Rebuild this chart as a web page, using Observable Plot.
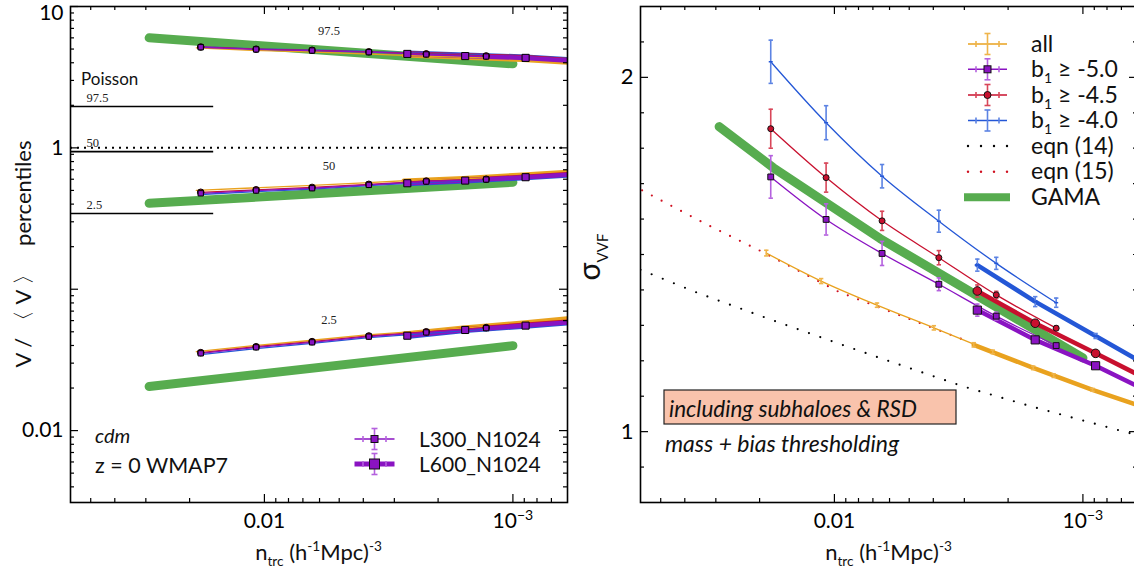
<!DOCTYPE html>
<html>
<head>
<meta charset="utf-8">
<script src="https://cdn.jsdelivr.net/npm/d3@7"></script>
<script src="https://cdn.jsdelivr.net/npm/@observablehq/plot@0.6"></script>
<style>
html,body{margin:0;padding:0;background:#fff;}
body{width:1134px;height:572px;overflow:hidden;}
#wrap{position:relative;width:1134px;height:572px;overflow:hidden;background:#fff;}
.panel{position:absolute;top:0;width:580px;height:572px;}
#left{left:0}
#right{left:580px}
</style>
</head>
<body>
<div id="wrap"><div id="left" class="panel"></div><div id="right" class="panel"></div></div>
<script>
const FONT = "Lato, 'Open Sans', 'DejaVu Sans', sans-serif";
const SERIF = "'Liberation Serif', 'DejaVu Serif', serif";

// ---------- shared x axis ----------
const xDomain = [0.0603, 0.000603];
const xMajorTicks = [0.01, 0.001];
const xMajorLabels = ["0.01", "10⁻³"];
const xMinorTicks = [0.05,0.04,0.03,0.02,0.009,0.008,0.007,0.006,0.005,0.004,0.003,0.002,0.0009,0.0008,0.0007];

// ---------- tracer number densities ----------
const nAllL300  = [0.0188, 0.01131, 0.00674, 0.00398, 0.002305, 0.001311];
const nAllL600  = [0.00275, 0.001585, 0.000915, 0.000527];
const nBiasL300 = [0.01804, 0.0108, 0.00643, 0.0038, 0.002232, 0.001281];
const nBiasL600 = [0.00266, 0.001556, 0.000889, 0.00052];

// ---------- left panel: V/<V> percentiles ----------
const leftYDomain = [0.0031, 10.0];
const leftYMajor = [10, 1, 0.1, 0.01];
const leftYLabelTicks = [1, 0.01];
const leftYLabels = ["1", "0.01"];
const leftYTopTick = [10];
const leftYTopLabel = ["10"];
const leftYMinor = [9,8,7,6,5,4,3,2,0.9,0.8,0.7,0.6,0.5,0.4,0.3,0.2,0.09,0.08,0.07,0.06,0.05,0.04,0.03,0.02,0.009,0.008,0.007,0.006,0.005,0.004];

const poissonPct = ["97.5", "50", "2.5"];
const poissonVal = [1.96, 0.94, 0.343];
const poissonN = [0.0603, 0.016];

const p975AllL300 = [5.10, 4.90, 4.78, 4.62, 4.45, 4.33];
const p975AllL600 = [4.52, 4.35, 4.20, 3.95];
const p975B50L300 = [5.15, 4.97, 4.88, 4.75, 4.58, 4.43];
const p975B50L600 = [4.62, 4.46, 4.33, 4.08];
const p975B45L300 = [5.17, 4.99, 4.90, 4.78, 4.62, 4.47];
const p975B45L600 = [4.66, 4.50, 4.37, 4.12];
const p975B40L300 = [5.20, 5.02, 4.93, 4.82, 4.66, 4.52];
const p975B40L600 = [4.70, 4.55, 4.42, 4.17];

const p50AllL300 = [0.500, 0.520, 0.540, 0.565, 0.595, 0.612];
const p50AllL600 = [0.585, 0.610, 0.645, 0.685];
const p50B50L300 = [0.477, 0.499, 0.518, 0.547, 0.578, 0.597];
const p50B50L600 = [0.562, 0.587, 0.620, 0.655];
const p50B45L300 = [0.485, 0.505, 0.525, 0.552, 0.582, 0.600];
const p50B45L600 = [0.568, 0.592, 0.625, 0.660];
const p50B40L300 = [0.468, 0.490, 0.510, 0.540, 0.570, 0.590];
const p50B40L600 = [0.555, 0.580, 0.612, 0.648];

const p025AllL300 = [0.0362, 0.0398, 0.0432, 0.0474, 0.0508, 0.0545];
const p025AllL600 = [0.0485, 0.0535, 0.0580, 0.0635];
const p025B50L300 = [0.0352, 0.0388, 0.0421, 0.0462, 0.0495, 0.0530];
const p025B50L600 = [0.0469, 0.0515, 0.0553, 0.0595];
const p025B45L300 = [0.0356, 0.0392, 0.0426, 0.0467, 0.0500, 0.0535];
const p025B45L600 = [0.0474, 0.0521, 0.0560, 0.0602];
const p025B40L300 = [0.0345, 0.0380, 0.0414, 0.0455, 0.0488, 0.0523];
const p025B40L600 = [0.0462, 0.0508, 0.0546, 0.0588];

const nGamaLeft = [0.0291, 0.001];
const gama975 = [6.0, 3.93];
const gama50 = [0.405, 0.571];
const gama025 = [0.0205, 0.0399];

const simPctLabels = ["97.5", "50", "2.5"];

// ---------- right panel: sigma_VVF ----------
const rightYDomain = [0.8, 2.2];
const rightYMajor = [1, 2];
const rightYMinor = [0.9,1.1,1.2,1.3,1.4,1.5,1.6,1.7,1.8,1.9,2.1];

const sigAllL300 = [1.504, 1.425, 1.357, 1.293, 1.225, 1.158];
const errAllL300 = [0.008, 0.007, 0.006, 0.006, 0.005, 0.005];
const sigAllL600 = [1.245, 1.180, 1.118, 1.061];
const errAllL600 = [0.006, 0.005, 0.004, 0.004];
const sigB50L300 = [1.719, 1.599, 1.503, 1.416, 1.326, 1.243];
const errB50L300 = [0.060, 0.044, 0.034, 0.018, 0.011, 0.008];
const sigB50L600 = [1.343, 1.259, 1.186, 1.106];
const errB50L600 = [0.017, 0.008, 0.006, 0.005];
const sigB45L300 = [1.855, 1.717, 1.595, 1.491, 1.386, 1.292];
const errB45L300 = [0.055, 0.041, 0.027, 0.020, 0.010, 0.006];
const sigB45L600 = [1.397, 1.306, 1.221, 1.139];
const errB45L600 = [0.017, 0.008, 0.006, 0.005];
const sigB40L300 = [2.044, 1.872, 1.721, 1.594, 1.475, 1.364];
const errB40L300 = [0.061, 0.048, 0.033, 0.031, 0.017, 0.013];
const sigB40L600 = [1.470, 1.367, 1.270, 1.177];
const errB40L600 = [0.017, 0.014, 0.007, 0.006];

const nEqn14 = [0.0603, 0.0353, 0.0188, 0.0109, 0.00638, 0.00301, 0.00159, 0.000635];
const sigEqn14 = [1.457, 1.391, 1.321, 1.262, 1.205, 1.127, 1.070, 0.994];
const nEqn15 = [0.0594, 0.0327, 0.0197, 0.00957, 0.00301];
const sigEqn15 = [1.681, 1.585, 1.509, 1.394, 1.259];
const nGama = [0.0291, 0.01763, 0.00655, 0.001];
const sigGama = [1.861, 1.745, 1.545, 1.208];

const boxLabels = ["L300_N1024", "L600_N1024"];

// ---------- styles ----------
const C = {all:"#E9A21F", b50:"#8A13C2", b45:"#C8102E", b40:"#2457D6", gama:"#57AC4F"};
const CE = {all:"#EFB44A", b50:"#B461DE", b45:"#D84659", b40:"#5C83E3"};
const frameW = 497, frameH = 496, mT = 6, mB = 70;

const capH = {draw(ctx, size){ const r = Math.sqrt(size/Math.PI); ctx.moveTo(-r,0); ctx.lineTo(r,0); }};

function tickMarks(yMajor, yMinor) {
  const s = {stroke:"#000", strokeWidth:1.2};
  return [
    Plot.tickX(xMajorTicks, {x:d=>d, insetTop: frameH-8, ...s}),
    Plot.tickX(xMajorTicks, {x:d=>d, insetBottom: frameH-8, ...s}),
    Plot.tickX(xMinorTicks, {x:d=>d, insetTop: frameH-4, ...s}),
    Plot.tickX(xMinorTicks, {x:d=>d, insetBottom: frameH-4, ...s}),
    Plot.tickY(yMajor, {y:d=>d, insetRight: frameW-8, ...s}),
    Plot.tickY(yMajor, {y:d=>d, insetLeft: frameW-8, ...s}),
    Plot.tickY(yMinor, {y:d=>d, insetRight: frameW-4, ...s}),
    Plot.tickY(yMinor, {y:d=>d, insetLeft: frameW-4, ...s}),
  ];
}
const xLabelAxis = () => Plot.axisX(xMajorTicks, {tickSize:0, tickPadding:11, fontSize:21, fontFamily:FONT, label:null,
  tickFormat: d => xMajorLabels[xMajorTicks.indexOf(d)]});

const rows = (n, v) => n.map((d,i)=>({n:d, v:v[i]}));
const erows = (n, s, e) => n.map((d,i)=>({n:d, v:s[i], e:e[i]})).filter(d => d.n >= xDomain[1]);

// ---------- LEFT PLOT ----------
const leftSets = [
  {ser:"all", n3:nAllL300, n6:nAllL600, v3:[p975AllL300,p50AllL300,p025AllL300], v6:[p975AllL600,p50AllL600,p025AllL600]},
  {ser:"b40", n3:nBiasL300, n6:nBiasL600, v3:[p975B40L300,p50B40L300,p025B40L300], v6:[p975B40L600,p50B40L600,p025B40L600]},
  {ser:"b45", n3:nBiasL300, n6:nBiasL600, v3:[p975B45L300,p50B45L300,p025B45L300], v6:[p975B45L600,p50B45L600,p025B45L600]},
  {ser:"b50", n3:nBiasL300, n6:nBiasL600, v3:[p975B50L300,p50B50L300,p025B50L300], v6:[p975B50L600,p50B50L600,p025B50L600]},
];
const L = [];
L.push(Plot.ruleY([1], {y:d=>d, stroke:"#000", strokeWidth:2, strokeDasharray:"2,5"}));
L.push(Plot.ruleY(poissonVal, {y:d=>d, x1:poissonN[0], x2:poissonN[1], stroke:"#000", strokeWidth:1.6}));
L.push(Plot.text(poissonPct, {y:(d,i)=>poissonVal[i], text:d=>d, frameAnchor:"left", dx:16, dy:-9, textAnchor:"start", fontSize:12.5, fontFamily:SERIF, fill:"#222"}));
for (const g of [gama975, gama50, gama025]) L.push(Plot.line(rows(nGamaLeft, g), {x:"n", y:"v", stroke:C.gama, strokeWidth:9}));
for (const s of leftSets) for (let k=0;k<3;k++) L.push(Plot.line(rows(s.n6, s.v6[k]), {x:"n", y:"v", stroke:C[s.ser], strokeWidth:4.5, clip:true}));
for (const s of leftSets) for (let k=0;k<3;k++) L.push(Plot.line(rows(s.n3, s.v3[k]), {x:"n", y:"v", stroke:C[s.ser], strokeWidth:1.3}));
for (let k=0;k<3;k++) {
  L.push(Plot.dot(rows(nBiasL300, leftSets[2].v3[k]), {x:"n", y:"v", r:3.3, fill:C.b45, stroke:"#000", strokeWidth:1}));
  L.push(Plot.dot(rows(nBiasL300, leftSets[3].v3[k]), {x:"n", y:"v", r:3.0, symbol:"square", fill:C.b50, stroke:"#000", strokeWidth:1}));
  L.push(Plot.dot(rows(nBiasL600, leftSets[3].v6[k]).filter(d=>d.n>=xDomain[1]), {x:"n", y:"v", r:4.0, symbol:"square", fill:C.b50, stroke:"#000", strokeWidth:1}));
  L.push(Plot.dot(rows(nAllL300, leftSets[0].v3[k]), {x:"n", y:"v", r:3.2, symbol:"plus", fill:"#F2C12E"}));
}
L.push(Plot.frame({stroke:"#000", strokeWidth:1.6}));
L.push(...tickMarks(leftYMajor, leftYMinor));
L.push(xLabelAxis());
L.push(Plot.axisY(leftYLabelTicks, {tickSize:0, tickPadding:7, fontSize:21, fontFamily:FONT, label:null,
  tickFormat: d => leftYLabels[leftYLabelTicks.indexOf(d)]}));
L.push(Plot.axisY(leftYTopTick, {tickSize:0, tickPadding:7, fontSize:21, fontFamily:FONT, label:null, dy:7,
  tickFormat: d => leftYTopLabel[leftYTopTick.indexOf(d)]}));

const leftPlot = Plot.plot({
  width:580, height:572, marginLeft:70, marginRight:13, marginTop:mT, marginBottom:mB,
  style:{fontFamily:FONT, background:"transparent", maxWidth:"none", overflow:"visible"},
  x:{type:"log", domain:xDomain},
  y:{type:"log", domain:leftYDomain},
  marks: L
});
document.getElementById("left").appendChild(leftPlot);

// ---------- RIGHT PLOT ----------
const rightSets = [
  {ser:"all", t3:erows(nAllL300,sigAllL300,errAllL300), t6:erows(nAllL600,sigAllL600,errAllL600), l3:rows(nAllL300,sigAllL300), l6:rows(nAllL600,sigAllL600)},
  {ser:"b50", t3:erows(nBiasL300,sigB50L300,errB50L300), t6:erows(nBiasL600,sigB50L600,errB50L600), l3:rows(nBiasL300,sigB50L300), l6:rows(nBiasL600,sigB50L600)},
  {ser:"b45", t3:erows(nBiasL300,sigB45L300,errB45L300), t6:erows(nBiasL600,sigB45L600,errB45L600), l3:rows(nBiasL300,sigB45L300), l6:rows(nBiasL600,sigB45L600)},
  {ser:"b40", t3:erows(nBiasL300,sigB40L300,errB40L300), t6:erows(nBiasL600,sigB40L600,errB40L600), l3:rows(nBiasL300,sigB40L300), l6:rows(nBiasL600,sigB40L600)},
];
const R = [];
R.push(Plot.line(rows(nEqn14, sigEqn14), {x:"n", y:"v", stroke:"#000", strokeWidth:2.2, strokeDasharray:"0,12", strokeLinecap:"round", clip:true}));
R.push(Plot.line(rows(nEqn15, sigEqn15), {x:"n", y:"v", stroke:"#d01020", strokeWidth:2.2, strokeDasharray:"0,11", strokeLinecap:"round", clip:true}));
R.push(Plot.line(rows(nGama, sigGama), {x:"n", y:"v", stroke:C.gama, strokeWidth:9}));
for (const s of rightSets) R.push(Plot.line(s.l6, {x:"n", y:"v", stroke:C[s.ser], strokeWidth:4.5, clip:true}));
for (const s of rightSets) R.push(Plot.line(s.l3, {x:"n", y:"v", stroke:C[s.ser], strokeWidth:1.3, curve:"catmull-rom"}));
for (const s of rightSets) {
  for (const t of [s.t3, s.t6]) {
    R.push(Plot.ruleX(t, {x:"n", y1:d=>d.v-d.e, y2:d=>d.v+d.e, stroke:CE[s.ser], strokeWidth:1.6}));
    R.push(Plot.dot(t, {x:"n", y:d=>d.v-d.e, symbol:capH, r:2.2, stroke:CE[s.ser], fill:"none", strokeWidth:1.6}));
    R.push(Plot.dot(t, {x:"n", y:d=>d.v+d.e, symbol:capH, r:2.2, stroke:CE[s.ser], fill:"none", strokeWidth:1.6}));
  }
}
R.push(Plot.dot(rightSets[0].t3, {x:"n", y:"v", r:2.6, symbol:"plus", fill:C.all}));
R.push(Plot.dot(rightSets[0].t6, {x:"n", y:"v", r:3.0, symbol:"plus", fill:C.all}));
R.push(Plot.dot(rightSets[3].t3, {x:"n", y:"v", r:2.0, symbol:capH, stroke:C.b40, fill:"none", strokeWidth:1.5}));
R.push(Plot.dot(rightSets[3].t6, {x:"n", y:"v", r:2.6, symbol:capH, stroke:C.b40, fill:"none", strokeWidth:2}));
R.push(Plot.dot(rightSets[1].t3, {x:"n", y:"v", r:3.3, symbol:"square", fill:C.b50, stroke:"#111", strokeWidth:1}));
R.push(Plot.dot(rightSets[1].t6, {x:"n", y:"v", r:4.6, symbol:"square", fill:C.b50, stroke:"#111", strokeWidth:1}));
R.push(Plot.dot(rightSets[2].t3, {x:"n", y:"v", r:3.0, fill:C.b45, stroke:"#111", strokeWidth:1}));
R.push(Plot.dot(rightSets[2].t6, {x:"n", y:"v", r:4.3, fill:C.b45, stroke:"#111", strokeWidth:1}));
R.push(Plot.frame({stroke:"#000", strokeWidth:1.6}));
R.push(...tickMarks(rightYMajor, rightYMinor));
R.push(xLabelAxis());
R.push(Plot.axisY(rightYMajor, {tickSize:0, tickPadding:7, fontSize:22, fontFamily:FONT, label:null, tickFormat:d=>String(d)}));

const rightPlot = Plot.plot({
  width:580, height:572, marginLeft:60, marginRight:23, marginTop:mT, marginBottom:mB,
  style:{fontFamily:FONT, background:"transparent", maxWidth:"none", overflow:"visible"},
  x:{type:"log", domain:xDomain},
  y:{type:"linear", domain:rightYDomain},
  marks: R
});
document.getElementById("right").appendChild(rightPlot);

// ---------- rich-text helpers ----------
function rich(g, x, y, parts, {size=20, anchor="start", rotate=0, italic=false, family=FONT, fill="#111"} = {}) {
  const t = g.append("text").attr("transform", `translate(${x},${y}) rotate(${rotate})`)
    .attr("text-anchor", anchor).attr("font-size", size).attr("font-family", family)
    .attr("font-style", italic ? "italic" : "normal").attr("fill", fill);
  let shift = 0;
  for (const p of parts) {
    const ts = t.append("tspan").text(p.t);
    const target = p.sub ? size*0.28 : p.sup ? -size*0.42 : 0;
    if (target !== shift) { ts.attr("dy", target - shift); shift = target; }
    if (p.sub || p.sup) ts.attr("font-size", p.fs || size*0.62);
    else if (p.fs) ts.attr("font-size", p.fs);
  }
  return t;
}
// turn "10⁻³" tick labels into 10 with a raised exponent
for (const svg of [leftPlot, rightPlot]) {
  d3.select(svg).selectAll("text").each(function() {
    if (this.textContent === xMajorLabels[1]) {
      const t = d3.select(this); t.text("");
      t.append("tspan").text("10");
      t.append("tspan").attr("dy", -8).attr("font-size", 14).text("−3");
    }
  });
}
const gl = d3.select(leftPlot).append("g");
const gr = d3.select(rightPlot).append("g");
const xTitle = [{t:"n"},{t:"trc",sub:true},{t:" (h"},{t:"-1",sup:true},{t:"Mpc)"},{t:"-3",sup:true}];
rich(gl, 318.5, 560, xTitle, {size:22, anchor:"middle"});
rich(gr, 308.5, 560, xTitle, {size:22, anchor:"middle"});
rich(gl, 31, 254, [{t:"V / 〈 V 〉   percentiles"}], {size:22, anchor:"middle", rotate:-90});
rich(gr, 20, 257, [{t:"σ", fs:30},{t:"VVF",sub:true,fs:15}], {size:30, anchor:"middle", rotate:-90});

// left annotations
rich(gl, 81, 85, [{t:"Poisson"}], {size:17});
const simPctY = [35, 170, 324];
simPctLabels.forEach((s,i)=> rich(gl, 329, simPctY[i], [{t:s}], {size:12.5, anchor:"middle", family:SERIF, fill:"#222"}));
rich(gl, 95, 443, [{t:"cdm"}], {size:20, italic:true});
rich(gl, 95, 473, [{t:"z = 0 WMAP7"}], {size:21.5});

function legendRow(g, xm, y, half, color, ecolor, lw, marker, msize) {
  g.append("line").attr("x1", xm-half).attr("x2", xm+half).attr("y1", y).attr("y2", y).attr("stroke", color).attr("stroke-width", lw);
  const eb = 10.5;
  g.append("line").attr("x1", xm).attr("x2", xm).attr("y1", y-eb).attr("y2", y+eb).attr("stroke", ecolor).attr("stroke-width", 1.6);
  for (const s of [-1,1]) {
    g.append("line").attr("x1", xm-3).attr("x2", xm+3).attr("y1", y+s*eb).attr("y2", y+s*eb).attr("stroke", ecolor).attr("stroke-width", 1.6);
    g.append("line").attr("x1", xm+s*11.5).attr("x2", xm+s*11.5).attr("y1", y-3).attr("y2", y+3).attr("stroke", ecolor).attr("stroke-width", 1.6);
  }
  if (marker === "square") g.append("rect").attr("x", xm-msize/2).attr("y", y-msize/2).attr("width", msize).attr("height", msize).attr("fill", color).attr("stroke", "#111").attr("stroke-width", 1);
  if (marker === "circle") g.append("circle").attr("cx", xm).attr("cy", y).attr("r", msize/2).attr("fill", color).attr("stroke", "#111").attr("stroke-width", 1);
}
// left legend
legendRow(gl, 374.5, 439, 20, C.b50, CE.b50, 1.5, "square", 7);
legendRow(gl, 374.5, 464, 20, C.b50, CE.b50, 5, "square", 10);
rich(gl, 419, 446.5, [{t:boxLabels[0]}], {size:21});
rich(gl, 419, 471.5, [{t:boxLabels[1]}], {size:21});

// right legend
const lgY = [44, 69.3, 95, 120.5, 146, 171.7, 197.3];
const lgX = 407.5, lgT = 451;
legendRow(gr, lgX, lgY[0], 19.5, C.all, CE.all, 1.6, null, 0);
legendRow(gr, lgX, lgY[1], 19.5, C.b50, CE.b50, 1.6, "square", 7);
legendRow(gr, lgX, lgY[2], 19.5, C.b45, CE.b45, 1.6, "circle", 7);
legendRow(gr, lgX, lgY[3], 19.5, C.b40, CE.b40, 1.6, null, 0);
for (const [row, col] of [[4, "#000"], [5, "#d01020"]]) {
  for (let k=0;k<4;k++) gr.append("circle").attr("cx", lgX-19.5+k*13).attr("cy", lgY[row]).attr("r", 1.2).attr("fill", col);
}
gr.append("line").attr("x1", lgX-23.5).attr("x2", lgX+22.5).attr("y1", lgY[6]).attr("y2", lgY[6]).attr("stroke", C.gama).attr("stroke-width", 8);
const legParts = [
  [{t:"all"}],
  [{t:"b"},{t:"1",sub:true,fs:14},{t:" ≥ -5.0"}],
  [{t:"b"},{t:"1",sub:true,fs:14},{t:" ≥ -4.5"}],
  [{t:"b"},{t:"1",sub:true,fs:14},{t:" ≥ -4.0"}],
  [{t:"eqn (14)"}],
  [{t:"eqn (15)"}],
  [{t:"GAMA"}],
];
legParts.forEach((p,i)=> rich(gr, lgT, lgY[i]+7.5, p, {size:23}));

// boxed annotation
gr.append("rect").attr("x", 84).attr("y", 390).attr("width", 292).attr("height", 34).attr("fill", "#F9C3AC").attr("stroke", "#222").attr("stroke-width", 1.2);
rich(gr, 89, 417, [{t:"including subhaloes & RSD"}], {size:22.5, italic:true});
rich(gr, 85, 452, [{t:"mass + bias thresholding"}], {size:23, italic:true});
</script>
</body>
</html>
